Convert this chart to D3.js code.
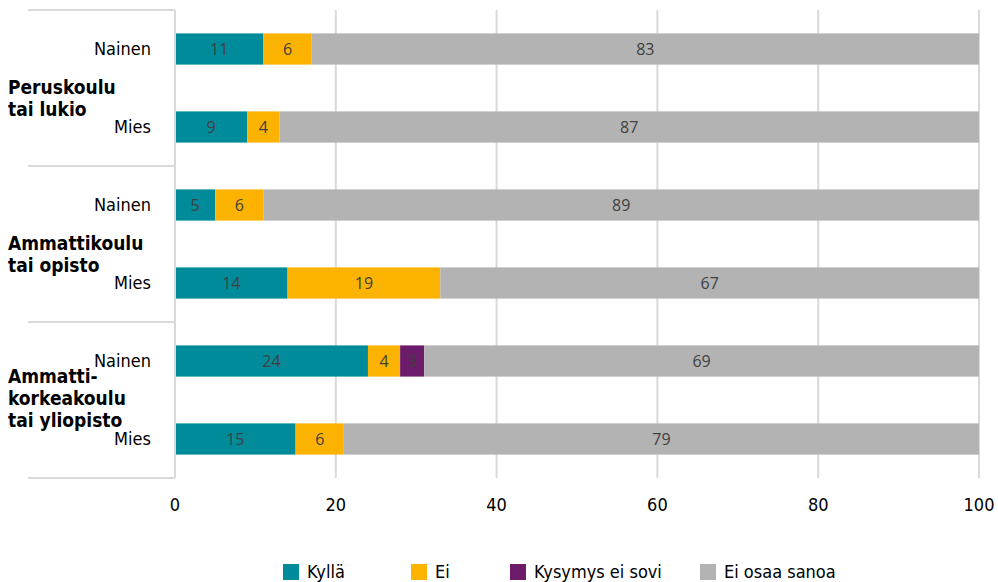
<!DOCTYPE html>
<html>
<head>
<meta charset="utf-8">
<script src="https://cdn.jsdelivr.net/npm/d3@7"></script>
<style>
  body { margin: 0; background: #fff; }
  svg text { font-family: "DejaVu Sans Condensed", "Liberation Sans Narrow", sans-serif; }
</style>
</head>
<body>
<svg width="998" height="582"></svg>
<script>
const groups = [
  ["Peruskoulu", "tai lukio"],
  ["Ammattikoulu", "tai opisto"],
  ["Ammatti-", "korkeakoulu", "tai yliopisto"]
];
const rows = ["Nainen", "Mies", "Nainen", "Mies", "Nainen", "Mies"];
const series = ["Kyllä", "Ei", "Kysymys ei sovi", "Ei osaa sanoa"];
const colors = ["#008B9B", "#FCB300", "#6C1B6B", "#B3B3B3"];
const kylla = [11, 9, 5, 14, 24, 15];
const ei = [6, 4, 6, 19, 4, 6];
const eiSovi = [0, 0, 0, 0, 3, 0];
const eiOsaa = [83, 87, 89, 67, 69, 79];
const ticks = [0, 20, 40, 60, 80, 100];

const svg = d3.select("svg");
const x = d3.scaleLinear().domain([0, 100]).range([175, 979]);
const y = d3.scaleBand().domain(d3.range(rows.length)).range([10, 478]).paddingInner(0.6).paddingOuter(0.3);

const table = rows.map((r, i) => ({
  i: i,
  "Kyllä": kylla[i],
  "Ei": ei[i],
  "Kysymys ei sovi": eiSovi[i],
  "Ei osaa sanoa": eiOsaa[i]
}));
const stack = d3.stack().keys(series)(table);

// gridlines
svg.append("g")
  .selectAll("line")
  .data(ticks.slice(1))
  .join("line")
  .attr("x1", d => x(d)).attr("x2", d => x(d))
  .attr("y1", 10).attr("y2", 478)
  .attr("stroke", "#D9D9D9").attr("stroke-width", 2);

// bars
const layer = svg.append("g")
  .selectAll("g")
  .data(stack)
  .join("g")
  .attr("fill", (d, k) => colors[k]);

layer.selectAll("rect")
  .data(d => d)
  .join("rect")
  .attr("x", d => x(d[0]))
  .attr("width", d => x(d[1]) - x(d[0]))
  .attr("y", d => y(d.data.i))
  .attr("height", y.bandwidth());

layer.selectAll("text")
  .data(d => d.filter(v => v[1] - v[0] > 0))
  .join("text")
  .attr("x", d => (x(d[0]) + x(d[1])) / 2)
  .attr("y", d => y(d.data.i) + y.bandwidth() / 2)
  .attr("dy", "0.36em")
  .attr("text-anchor", "middle")
  .attr("fill", "#404040")
  .style("font-family", "'Open Sans', sans-serif")
  .style("font-size", "16px")
  .text(d => d[1] - d[0]);

// axis line and group separators
const groupH = (478 - 10) / groups.length;
svg.append("line")
  .attr("x1", 175).attr("x2", 175).attr("y1", 10).attr("y2", 478)
  .attr("stroke", "#D9D9D9").attr("stroke-width", 2);
svg.append("g")
  .selectAll("line")
  .data(d3.range(groups.length + 1))
  .join("line")
  .attr("x1", 28).attr("x2", 175)
  .attr("y1", d => 10 + d * groupH).attr("y2", d => 10 + d * groupH)
  .attr("stroke", "#D9D9D9").attr("stroke-width", 2);

// row labels
svg.append("g")
  .selectAll("text")
  .data(rows)
  .join("text")
  .attr("x", 151)
  .attr("y", (d, i) => y(i) + y.bandwidth() / 2)
  .attr("dy", "0.36em")
  .attr("text-anchor", "end")
  .attr("fill", "#000")
  .style("font-size", "18px")
  .text(d => d);

// group labels (baseline of first line)
svg.append("g")
  .selectAll("text")
  .data(groups)
  .join("text")
  .attr("x", 8)
  .attr("y", (d, g) => 10 + (g + 0.5) * groupH + 6 - (d.length - 2) * 23)
  .attr("fill", "#000")
  .style("font-size", "19px")
  .style("font-weight", "bold")
  .each(function (d) {
    d3.select(this).selectAll("tspan")
      .data(d)
      .join("tspan")
      .attr("x", 8)
      .attr("dy", (t, j) => j === 0 ? 0 : 22)
      .text(t => t);
  });

// x tick labels
svg.append("g")
  .selectAll("text")
  .data(ticks)
  .join("text")
  .attr("x", d => x(d))
  .attr("y", 505)
  .attr("dy", "0.36em")
  .attr("text-anchor", "middle")
  .attr("fill", "#000")
  .style("font-size", "18px")
  .text(d => d);

// legend
const legendX = [283, 411, 510, 700];
const legend = svg.append("g")
  .selectAll("g")
  .data(series)
  .join("g")
  .attr("transform", (d, k) => `translate(${legendX[k]},564)`);
legend.append("rect")
  .attr("width", 16).attr("height", 16)
  .attr("fill", (d, k) => colors[k]);
legend.append("text")
  .attr("x", 24).attr("y", 8)
  .attr("dy", "0.36em")
  .attr("fill", "#000")
  .style("font-size", "18px")
  .text(d => d);
</script>
</body>
</html>
